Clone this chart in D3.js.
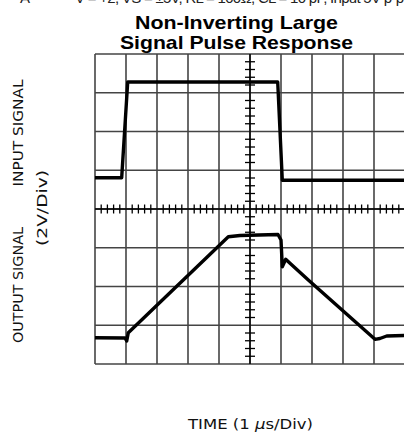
<!DOCTYPE html>
<html><head><meta charset="utf-8">
<script src="https://cdn.jsdelivr.net/npm/d3@7"></script>
<style>html,body{margin:0;padding:0;background:#fff;overflow:hidden}</style>
</head><body>
<script>
// time in µs (divisions), voltage in divisions (2V/Div)
const inputTime  = [0, 0.861, 1.055, 5.894, 6.042, 10];
const inputValue = [4.808, 4.808, 7.277, 7.277, 4.741, 4.741];
const outputTime  = [0, 0.968, 1.023, 1.074, 4.30, 4.677, 5.903, 6.0, 6.042, 6.152, 6.29, 6.881, 9.032, 9.19, 9.41, 10];
const outputValue = [0.679, 0.671, 0.594, 0.808, 3.285, 3.316, 3.342, 3.2, 2.511, 2.702, 2.599, 2.168, 0.637, 0.658, 0.723, 0.735];
const xDivs = d3.range(0, 11);
const yDivs = d3.range(0, 9);
const titleLines = ["Non-Inverting Large", "Signal Pulse Response"];

const W = 404, H = 435;
const svg = d3.select("body").append("svg").attr("width", W).attr("height", H);
const x = d3.scaleLinear().domain([0, 10]).range([95, 405]);
const y = d3.scaleLinear().domain([0, 8]).range([364, 54]);

// header text, cropped at the top edge as in the reference
svg.append("text").attr("x", 20).attr("y", 3).attr("font-family", "Liberation Sans, Arial, sans-serif")
  .attr("font-size", 15).attr("fill", "#222").text("A");
svg.append("text").attr("x", 75).attr("y", 3).attr("font-family", "Liberation Sans, Arial, sans-serif")
  .attr("font-size", 15).attr("fill", "#222").attr("textLength", 329).attr("lengthAdjust", "spacing")
  .text("V = +2, VS = ±5V, RL = 100Ω, CL = 10 pF, Input 5V p-p");

// title
const titleLen = [203, 233];
svg.append("g").selectAll("text").data(titleLines).join("text")
  .attr("x", 236.5).attr("y", (d, i) => 28.5 + i * 20)
  .attr("text-anchor", "middle")
  .attr("font-family", "Liberation Sans, Arial, sans-serif")
  .attr("font-weight", "bold").attr("font-size", 18.5).attr("fill", "#000")
  .attr("textLength", (d, i) => titleLen[i]).attr("lengthAdjust", "spacingAndGlyphs")
  .text(d => d);

// grid
const grid = svg.append("g").attr("stroke", "#444").attr("stroke-width", 1.6);
grid.selectAll("line.v").data(xDivs).join("line").attr("class", "v")
  .attr("x1", d => x(d)).attr("x2", d => x(d)).attr("y1", y(0)).attr("y2", y(8));
grid.selectAll("line.h").data(yDivs).join("line").attr("class", "h")
  .attr("y1", d => y(d)).attr("y2", d => y(d)).attr("x1", x(0)).attr("x2", x(10));

// center axes with minor ticks
const axes = svg.append("g").attr("stroke", "#000");
axes.append("line").attr("x1", x(0)).attr("x2", x(10)).attr("y1", y(4)).attr("y2", y(4)).attr("stroke-width", 1.4);
axes.append("line").attr("x1", x(5)).attr("x2", x(5)).attr("y1", y(0)).attr("y2", y(8)).attr("stroke-width", 1.4);
const minorX = d3.range(0, 50).map(i => i / 5).filter(v => Math.abs(v - Math.round(v)) > 1e-6);
const minorY = d3.range(0, 40).map(i => i / 5).filter(v => Math.abs(v - Math.round(v)) > 1e-6);
axes.selectAll("line.tx").data(minorX).join("line").attr("class", "tx")
  .attr("x1", d => x(d)).attr("x2", d => x(d)).attr("y1", y(4) - 4.5).attr("y2", y(4) + 4.5).attr("stroke-width", 1.3);
axes.selectAll("line.ty").data(minorY).join("line").attr("class", "ty")
  .attr("y1", d => y(d)).attr("y2", d => y(d)).attr("x1", x(5) - 5).attr("x2", x(5) + 5).attr("stroke-width", 1.3);

// traces
const line = d3.line().x(d => x(d[0])).y(d => y(d[1]));
svg.append("path").datum(d3.zip(inputTime, inputValue)).attr("d", line)
  .attr("fill", "none").attr("stroke", "#000").attr("stroke-width", 3.4).attr("stroke-linejoin", "round");
svg.append("path").datum(d3.zip(outputTime, outputValue)).attr("d", line)
  .attr("fill", "none").attr("stroke", "#000").attr("stroke-width", 3.4).attr("stroke-linejoin", "round");

// axis labels
const lf = "Liberation Sans Narrow, DejaVu Sans Condensed, sans-serif";
function vlabel(txt, cx, cy, len) {
  svg.append("text").attr("transform", `translate(${cx},${cy}) rotate(-90)`)
    .attr("text-anchor", "middle").attr("font-family", lf).attr("font-size", 14).attr("fill", "#111")
    .attr("textLength", len).attr("lengthAdjust", "spacingAndGlyphs").text(txt);
}
vlabel("INPUT SIGNAL", 23, 133, 107);
vlabel("(2V/Div)", 47, 208, 76);
vlabel("OUTPUT SIGNAL", 23, 285, 116);

const t = svg.append("text").attr("x", 250.5).attr("y", 429).attr("text-anchor", "middle")
  .attr("font-family", lf).attr("font-size", 14).attr("fill", "#111")
  .attr("textLength", 125).attr("lengthAdjust", "spacingAndGlyphs");
t.append("tspan").text("TIME (1 ");
t.append("tspan").attr("font-style", "italic").text("μ");
t.append("tspan").text("s/Div)");
</script>
</body></html>
